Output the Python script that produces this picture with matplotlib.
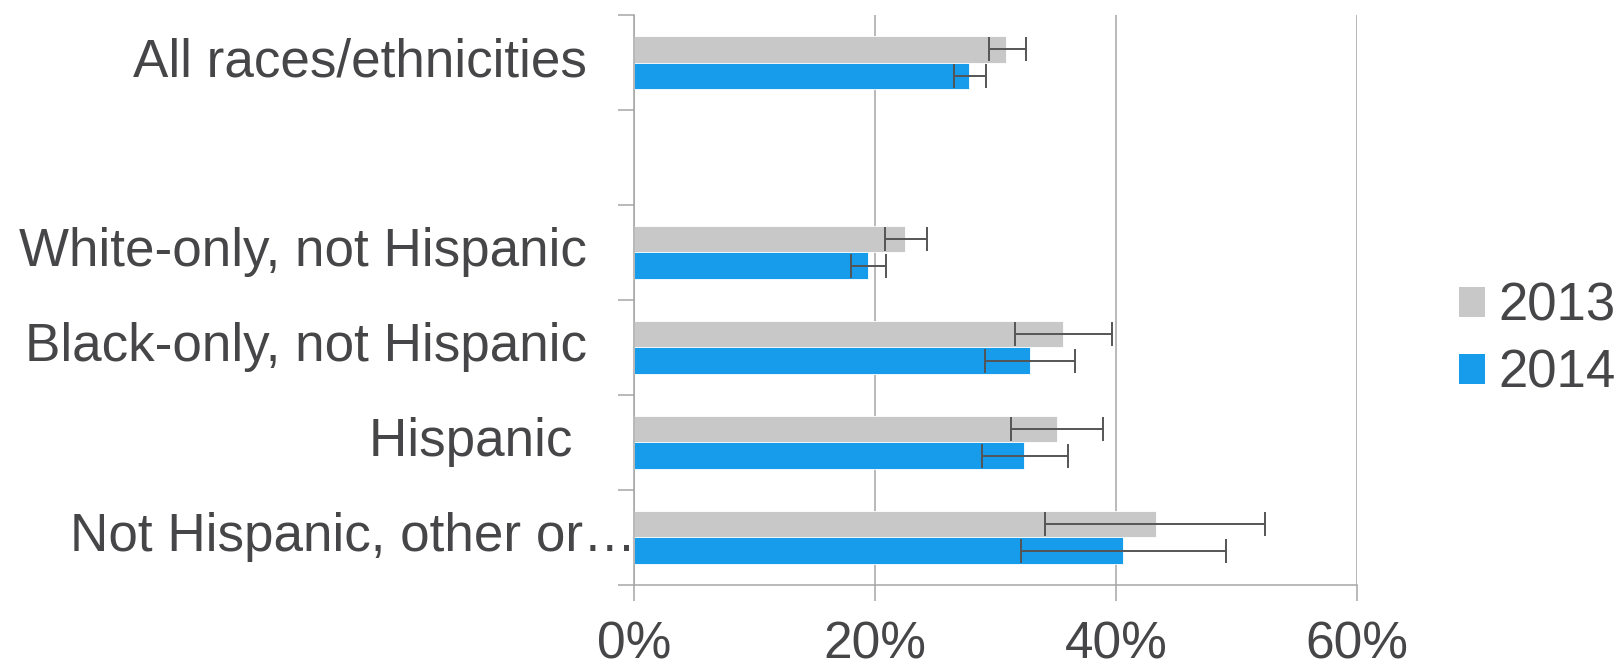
"""
Horizontal grouped bars with error bars: share by race/ethnicity, 2013 vs 2014.
"""
import numpy as np
import matplotlib
matplotlib.use('Agg')
import matplotlib.pyplot as plt
from matplotlib.patches import Patch

plt.rcParams['font.family'] = ['Liberation Sans', 'DejaVu Sans']

categories = ['All races/ethnicities', '', 'White-only, not Hispanic',
              'Black-only, not Hispanic', 'Hispanic ', 'Not Hispanic, other or…']
series = ['2013', '2014']

# values in percent (blank row has no data)
v2013 = [30.9, np.nan, 22.5, 35.6, 35.1, 43.3]
lo2013 = [29.5, np.nan, 20.8, 31.6, 31.3, 34.1]
hi2013 = [32.5, np.nan, 24.3, 39.7, 38.9, 52.4]

v2014 = [27.8, np.nan, 19.4, 32.9, 32.4, 40.6]
lo2014 = [26.6, np.nan, 18.0, 29.1, 28.9, 32.1]
hi2014 = [29.2, np.nan, 20.9, 36.6, 36.0, 49.1]

xticks = [0, 20, 40, 60]

gray = '#C8C8C8'
blue = '#179CEB'
axis_col = '#A6A6A6'
text_col = '#464547'
err_col = '#555555'

fig = plt.figure(figsize=(16.21, 6.70), dpi=100)
ax = fig.add_axes([0.3911, 0.1269, 0.8371 - 0.3911, 0.9776 - 0.1269])

y = np.arange(len(categories))
h = 0.284

for vals, lo, hi, col, off in [(v2013, lo2013, hi2013, gray, -h / 2),
                               (v2014, lo2014, hi2014, blue, h / 2)]:
    vals = np.array(vals)
    err = np.array([vals - np.array(lo), np.array(hi) - vals])
    ok = ~np.isnan(vals)
    ax.barh(y[ok] + off, vals[ok], height=h, color=col,
            edgecolor='white', linewidth=0.6, zorder=2)
    ax.errorbar(vals[ok], y[ok] + off, xerr=err[:, ok], fmt='none',
                ecolor=err_col, elinewidth=1.4, capsize=8.5, capthick=1.4, zorder=3)

ax.set_xlim(0, 60)
ax.set_ylim(len(categories) - 0.5, -0.5)

ax.set_xticks(xticks)
ax.set_xticklabels([f'{t}%' for t in xticks], fontsize=37, color=text_col)
ax.tick_params(axis='x', direction='out', length=11.5, width=1.1,
               color=axis_col, pad=14)
ax.grid(axis='x', color=axis_col, linewidth=1.1, zorder=0)
ax.set_axisbelow(True)

# tick marks between categories, labels drawn as text
ax.set_yticks(np.arange(len(categories) + 1) - 0.5)
ax.set_yticklabels([])
ax.tick_params(axis='y', direction='out', length=11.5, width=1.1, color=axis_col)

trans = ax.get_yaxis_transform()
for i, lab in enumerate(categories):
    xpos = 0.003 if lab.endswith('…') else -0.065
    ax.text(xpos, i, lab, transform=trans, ha='right', va='center',
            fontsize=38.2, color=text_col)

for s in ['top', 'right']:
    ax.spines[s].set_visible(False)
for s in ['left', 'bottom']:
    ax.spines[s].set_color(axis_col)
    ax.spines[s].set_linewidth(1.1)

handles = [Patch(facecolor=gray, label=series[0]),
           Patch(facecolor=blue, label=series[1])]
fig.legend(handles=handles, loc='center left', bbox_to_anchor=(0.900, 0.4925),
           frameon=False, fontsize=38, handlelength=0.5, handleheight=0.5,
           handletextpad=0.25, labelspacing=0.33, borderpad=0, borderaxespad=0,
           labelcolor=text_col)

fig.savefig('out.png', dpi=100)
